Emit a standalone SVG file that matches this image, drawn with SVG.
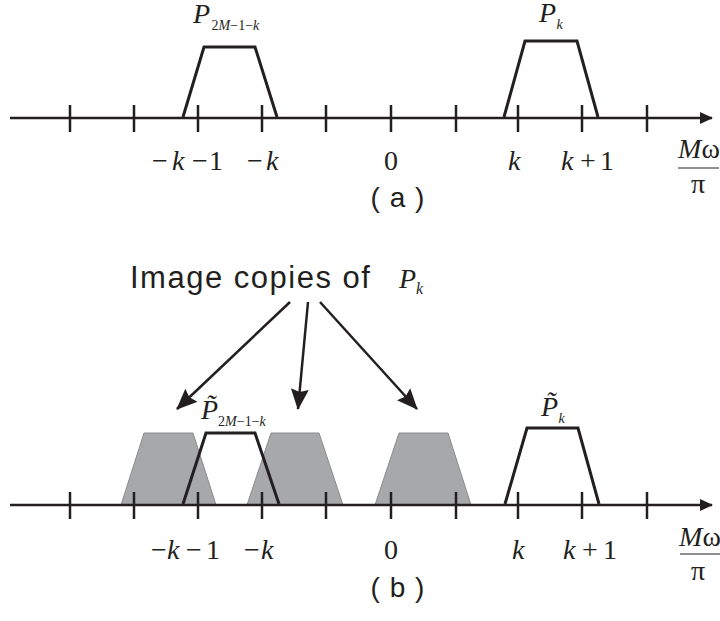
<svg xmlns="http://www.w3.org/2000/svg" width="720" height="621" viewBox="0 0 720 621">
<defs>
<marker id="axhead" markerWidth="14" markerHeight="12" refX="12" refY="6" orient="auto" markerUnits="userSpaceOnUse">
<path d="M0,0 L13,6 L0,12 Z" fill="#231f20"/>
</marker>
<marker id="arr" markerWidth="22" markerHeight="18" refX="20" refY="9" orient="auto" markerUnits="userSpaceOnUse">
<path d="M0,0 L21,9 L0,18 L3,9 Z" fill="#231f20"/>
</marker>
</defs>
<style>
.axis{stroke:#231f20;stroke-width:2.5;fill:none}
.tick{stroke:#231f20;stroke-width:2.5}
.trap{stroke:#231f20;stroke-width:3;fill:none;stroke-linejoin:miter}
.gray{fill:#a7a8aa;stroke:#8a8b8d;stroke-width:1}
.conn{stroke:#231f20;stroke-width:2.5;fill:none}
.m{font-family:"Liberation Serif",serif;font-size:28px;fill:#231f20}
.i{font-style:italic}
.s{font-size:14px}
.cap{font-family:"Liberation Sans",Arial,sans-serif;font-size:28px;letter-spacing:1px;fill:#231f20}
.title{font-family:"Liberation Sans",Arial,sans-serif;font-size:31px;letter-spacing:1.5px;fill:#231f20}
.frac{stroke:#231f20;stroke-width:1}
</style>

<!-- Panel (a) -->
<g id="axis-a">
<line class="axis" x1="10" y1="118" x2="712" y2="118" marker-end="url(#axhead)"/>
<g class="tick">
<line x1="70" y1="105" x2="70" y2="132"/>
<line x1="134" y1="105" x2="134" y2="132"/>
<line x1="198" y1="105" x2="198" y2="132"/>
<line x1="262" y1="105" x2="262" y2="132"/>
<line x1="326" y1="105" x2="326" y2="132"/>
<line x1="391" y1="105" x2="391" y2="132"/>
<line x1="456" y1="105" x2="456" y2="132"/>
<line x1="518" y1="105" x2="518" y2="132"/>
<line x1="582" y1="105" x2="582" y2="132"/>
<line x1="647" y1="105" x2="647" y2="132"/>
</g>
</g>
<g id="P2M-a">
<polyline class="trap" points="183,117 204,47 255,47 277,117"/>
<text class="m" x="193" y="23" font-size="22"><tspan font-style="italic">P</tspan><tspan class="s" dx="1.5" dy="7">2</tspan><tspan class="s" font-style="italic">M</tspan><tspan class="s">−1−</tspan><tspan class="s" font-style="italic">k</tspan></text>
</g>
<g id="Pk-a">
<polyline class="trap" points="504,117 525,41 577,41 598,117"/>
<text class="m i" x="539" y="22" font-size="22">P<tspan class="s" dx="0.5" dy="7">k</tspan></text>
</g>
<g id="labels-a">
<text class="m" y="170"><tspan x="152">−</tspan><tspan x="172" font-style="italic">k</tspan><tspan x="192">−</tspan><tspan x="209">1</tspan></text>
<text class="m" y="170"><tspan x="247">−</tspan><tspan x="266" font-style="italic">k</tspan></text>
<text class="m" x="391" y="170" text-anchor="middle">0</text>
<text class="m i" x="508" y="170">k</text>
<text class="m" y="170"><tspan x="561" font-style="italic">k</tspan><tspan x="580">+</tspan><tspan x="600">1</tspan></text>
<text class="m i" x="699" y="158" text-anchor="middle" font-size="25">M<tspan font-style="normal">ω</tspan></text>
<line class="frac" x1="678" y1="168" x2="719" y2="168"/>
<text class="m" x="698" y="193" text-anchor="middle" font-size="25">π</text>
<text class="cap" x="398" y="207" text-anchor="middle">( a )</text>
</g>

<!-- Panel (b) -->
<g id="image-copies">
<path class="gray" d="M121,505 L144,433 L193,433 L216,505 Z"/>
<path class="gray" d="M247,505 L271,433 L319,433 L343,505 Z"/>
<path class="gray" d="M375,505 L399,433 L448,433 L471,505 Z"/>
</g>
<g id="axis-b">
<line class="axis" x1="10" y1="505" x2="712" y2="505" marker-end="url(#axhead)"/>
<g class="tick">
<line x1="70" y1="492" x2="70" y2="519"/>
<line x1="134" y1="492" x2="134" y2="519"/>
<line x1="198" y1="492" x2="198" y2="519"/>
<line x1="262" y1="492" x2="262" y2="519"/>
<line x1="326" y1="492" x2="326" y2="519"/>
<line x1="391" y1="492" x2="391" y2="519"/>
<line x1="456" y1="492" x2="456" y2="519"/>
<line x1="518" y1="492" x2="518" y2="519"/>
<line x1="582" y1="492" x2="582" y2="519"/>
<line x1="647" y1="492" x2="647" y2="519"/>
</g>
</g>
<g id="P2M-b">
<polyline class="trap" points="183,504 206,433 255,433 279,504"/>
<text class="m" x="201" y="419" font-size="22"><tspan font-style="italic">P&#x303;</tspan><tspan class="s" dx="0" dy="7">2</tspan><tspan class="s" font-style="italic">M</tspan><tspan class="s">−1−</tspan><tspan class="s" font-style="italic">k</tspan></text>
</g>
<g id="Pk-b">
<polyline class="trap" points="505,504 527,428 578,428 599,504"/>
<text class="m i" x="541" y="416" font-size="22">P&#x303;<tspan class="s" dx="0.5" dy="7">k</tspan></text>
</g>
<g id="title">
<text class="title" x="130" y="288">Image copies of</text>
<text class="m i" x="399" y="288" font-size="30">P<tspan dx="0" dy="6" font-size="16">k</tspan></text>
</g>
<g id="connectors">
<line class="conn" x1="290" y1="302" x2="177" y2="409" marker-end="url(#arr)"/>
<line class="conn" x1="308" y1="302" x2="298" y2="409" marker-end="url(#arr)"/>
<line class="conn" x1="320" y1="302" x2="417" y2="409" marker-end="url(#arr)"/>
</g>
<g id="labels-b">
<text class="m" y="559"><tspan x="151">−</tspan><tspan x="167" font-style="italic">k</tspan><tspan x="186">−</tspan><tspan x="206">1</tspan></text>
<text class="m" y="559"><tspan x="244">−</tspan><tspan x="261" font-style="italic">k</tspan></text>
<text class="m" x="391" y="559" text-anchor="middle">0</text>
<text class="m i" x="512" y="559">k</text>
<text class="m" y="559"><tspan x="563" font-style="italic">k</tspan><tspan x="582">+</tspan><tspan x="603">1</tspan></text>
<text class="m i" x="700" y="546" text-anchor="middle" font-size="25">M<tspan font-style="normal">ω</tspan></text>
<line class="frac" x1="680" y1="554" x2="720" y2="554"/>
<text class="m" x="698" y="580" text-anchor="middle" font-size="25">π</text>
<text class="cap" x="398" y="597" text-anchor="middle">( b )</text>
</g>
</svg>
